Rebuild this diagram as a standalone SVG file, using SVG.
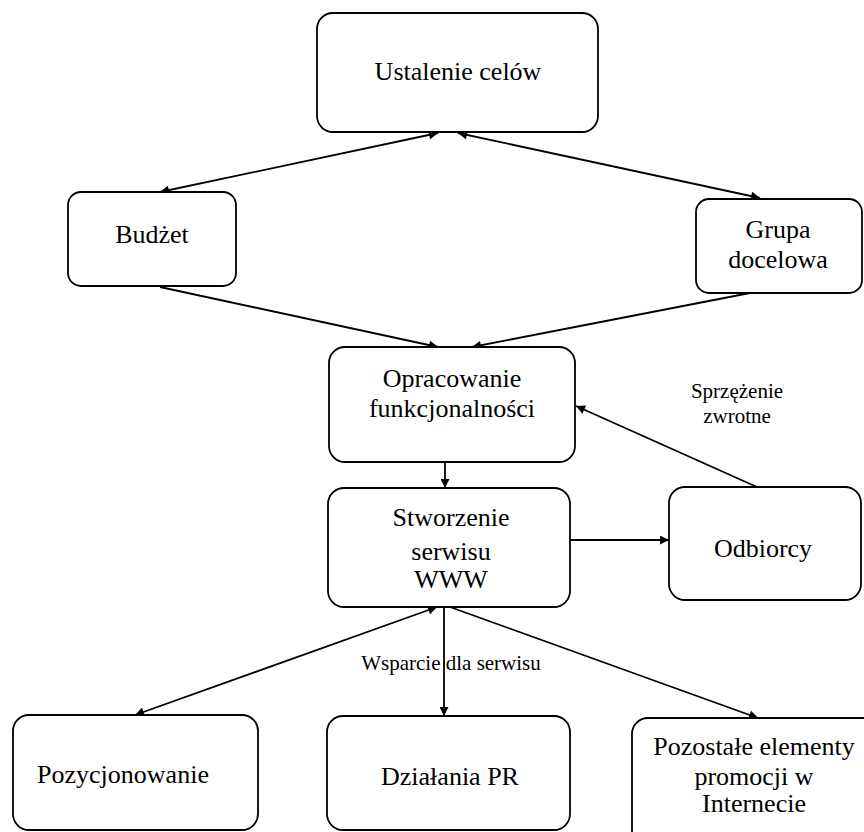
<svg xmlns="http://www.w3.org/2000/svg" width="864" height="832" viewBox="0 0 864 832">
<style>
.box{fill:#fff;stroke:#000;stroke-width:1.8}
.t{font-family:"Liberation Serif","Times New Roman",serif;font-size:26px;fill:#000;text-anchor:middle}
.s{font-family:"Liberation Serif","Times New Roman",serif;font-size:21px;fill:#000;text-anchor:middle}
.c{stroke:#000;stroke-width:1.8;fill:none}
</style>
<defs>
<marker id="ah" viewBox="0 0 10 10" refX="10" refY="5" markerWidth="11" markerHeight="9" markerUnits="userSpaceOnUse" orient="auto-start-reverse">
<path d="M0,0 L10,5 L0,10 Z" fill="#000"/>
</marker>
</defs>
<rect width="864" height="832" fill="#fff"/>
<g id="connectors">
<line class="c" x1="438" y1="133" x2="160" y2="192" marker-start="url(#ah)" marker-end="url(#ah)"/>
<line class="c" x1="458" y1="133" x2="760" y2="198" marker-start="url(#ah)" marker-end="url(#ah)"/>
<line class="c" x1="160" y1="287" x2="438" y2="347" marker-end="url(#ah)"/>
<line class="c" x1="750" y1="293" x2="472" y2="347" marker-end="url(#ah)"/>
<line class="c" x1="445" y1="462" x2="445" y2="488" marker-end="url(#ah)"/>
<line class="c" x1="570" y1="540" x2="669" y2="540" marker-end="url(#ah)"/>
<line class="c" x1="757" y1="487" x2="576" y2="406" marker-end="url(#ah)"/>
<line class="c" x1="437" y1="607" x2="135" y2="715" marker-start="url(#ah)" marker-end="url(#ah)"/>
<line class="c" x1="444" y1="607" x2="444" y2="716" marker-end="url(#ah)"/>
<line class="c" x1="450" y1="607" x2="758" y2="718" marker-end="url(#ah)"/>
</g>
<g id="ustalenie">
<rect class="box" x="317" y="13" width="281" height="119" rx="16"/>
<text class="t" x="458" y="80">Ustalenie celów</text>
</g>
<g id="budzet">
<rect class="box" x="68" y="192" width="168" height="94" rx="13"/>
<text class="t" x="152" y="243">Budżet</text>
</g>
<g id="grupa">
<rect class="box" x="696" y="199" width="166" height="94" rx="13"/>
<text class="t" x="778" y="238">Grupa</text>
<text class="t" x="778" y="268">docelowa</text>
</g>
<g id="opracowanie">
<rect class="box" x="329" y="347" width="246" height="115" rx="16"/>
<text class="t" x="452" y="387">Opracowanie</text>
<text class="t" x="452" y="417">funkcjonalności</text>
</g>
<g id="sprzezenie-label">
<text class="s" x="737" y="398">Sprzężenie</text>
<text class="s" x="737" y="423">zwrotne</text>
</g>
<g id="stworzenie">
<rect class="box" x="328" y="488" width="242" height="119" rx="16"/>
<text class="t" x="451" y="526">Stworzenie</text>
<text class="t" x="451" y="560">serwisu</text>
<text class="t" x="451" y="588">WWW</text>
</g>
<g id="odbiorcy">
<rect class="box" x="669" y="487" width="192" height="113" rx="16"/>
<text class="t" x="763" y="557">Odbiorcy</text>
</g>
<g id="wsparcie-label">
<text class="s" x="451" y="670">Wsparcie dla serwisu</text>
</g>
<g id="pozycjonowanie">
<rect class="box" x="13" y="715" width="245" height="115" rx="16"/>
<text class="t" x="123" y="783">Pozycjonowanie</text>
</g>
<g id="dzialania">
<rect class="box" x="327" y="716" width="243" height="114" rx="16"/>
<text class="t" x="450" y="785">Działania PR</text>
</g>
<g id="pozostale">
<rect class="box" x="632" y="718" width="250" height="130" rx="16"/>
<text class="t" x="754" y="755">Pozostałe elementy</text>
<text class="t" x="754" y="785">promocji w</text>
<text class="t" x="754" y="812">Internecie</text>
</g>
</svg>
